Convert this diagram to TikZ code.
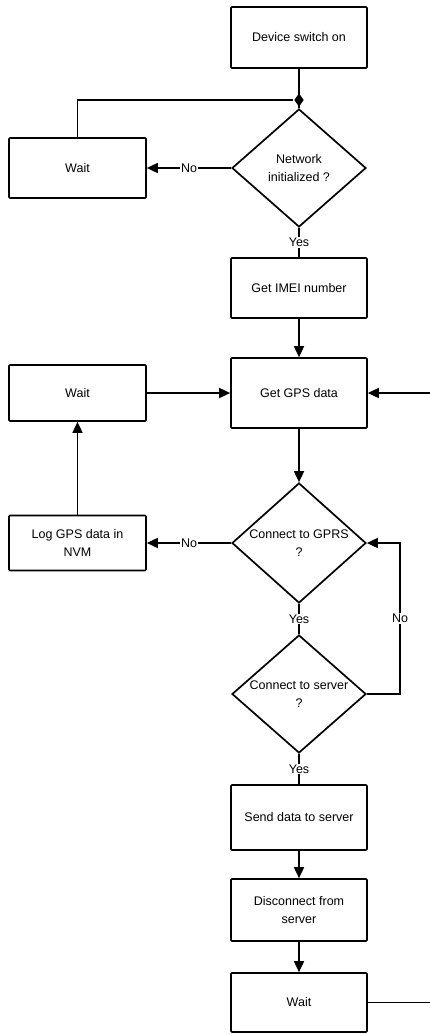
\documentclass[tikz,border=0pt]{standalone}
\usepackage{fontspec}
\setmainfont{Liberation Sans}
\usetikzlibrary{shapes.geometric,arrows.meta}
\begin{document}
\begin{tikzpicture}[x=1pt,y=-1pt,
  line width=1.7pt,
  txt/.style={font=\fontsize{12.5}{18}\selectfont, align=center},
  box/.style={draw, rectangle, rounded corners=1pt, minimum width=136pt, inner sep=0pt, txt},
  dia/.style={draw, diamond, minimum width=134pt, minimum height=118pt, inner sep=0pt},
  lbl/.style={fill=white, inner sep=1pt, font=\fontsize{12.5}{15}\selectfont},
  arr/.style={-{Triangle[length=11pt,width=10pt]}},
  jn/.style={fill=black, diamond, inner sep=0pt, minimum width=10pt, minimum height=14pt}
]
\useasboundingbox (0,0) rectangle (430,1034);

% main column
\node[box, minimum height=61pt] (dev) at (299,37.5) {Device switch on};
\node[dia, label={[txt]center:Network\\initialized ?}] (d1) at (299,168) {};
\node[box, minimum height=60pt] (imei) at (299,288) {Get IMEI number};
\node[box, minimum height=70pt] (gps) at (299,393) {Get GPS data};
\node[dia, minimum height=120pt, label={[txt]center:Connect to GPRS\\?}] (d2) at (299,543) {};
\node[dia, label={[txt]center:Connect to server\\?}] (d3) at (299,694) {};
\node[box, minimum height=65pt] (send) at (299,817.5) {Send data to server};
\node[box, minimum height=62pt] (disc) at (299,910) {Disconnect from\\server};
\node[box, minimum height=59pt] (wait3) at (299,1002.5) {Wait};

% left column
\node[box, minimum width=137pt, minimum height=60pt] (wait1) at (77.5,168) {Wait};
\node[box, minimum width=137pt, minimum height=56pt] (wait2) at (77.5,393) {Wait};
\node[box, minimum width=137pt, minimum height=55pt] (log) at (77.5,543) {Log GPS data in\\NVM};

% junction and free ends
\node[jn] (junc) at (299,100) {};
\coordinate (gpsin) at (430,393);
\coordinate (waitout) at (430,1002.5);
\coordinate (loopr) at (400,694);

% connectors
\draw (dev.south) -- (d1.north);
\draw (wait1.north) |- (junc);
\draw[arr] (d1.west) -- node[lbl]{No} (wait1.east);
\draw (d1.south) -- node[lbl]{Yes} (imei.north);
\draw[arr] (imei.south) -- (gps.north);
\draw[arr] (wait2.east) -- (gps.west);
\draw[arr] (gpsin) -- (gps.east);
\draw[arr] (gps.south) -- (d2.north);
\draw[arr] (d2.west) -- node[lbl]{No} (log.east);
\draw[arr] (log.north) -- (wait2.south);
\draw (d2.south) -- node[lbl]{Yes} (d3.north);
\draw[arr] (d3.east) -- (loopr) -- node[lbl]{No} (loopr |- d2.east) -- (d2.east);
\draw (d3.south) -- node[lbl]{Yes} (send.north);
\draw[arr] (send.south) -- (disc.north);
\draw[arr] (disc.south) -- (wait3.north);
\draw (wait3.east) -- (waitout);
\end{tikzpicture}
\end{document}
